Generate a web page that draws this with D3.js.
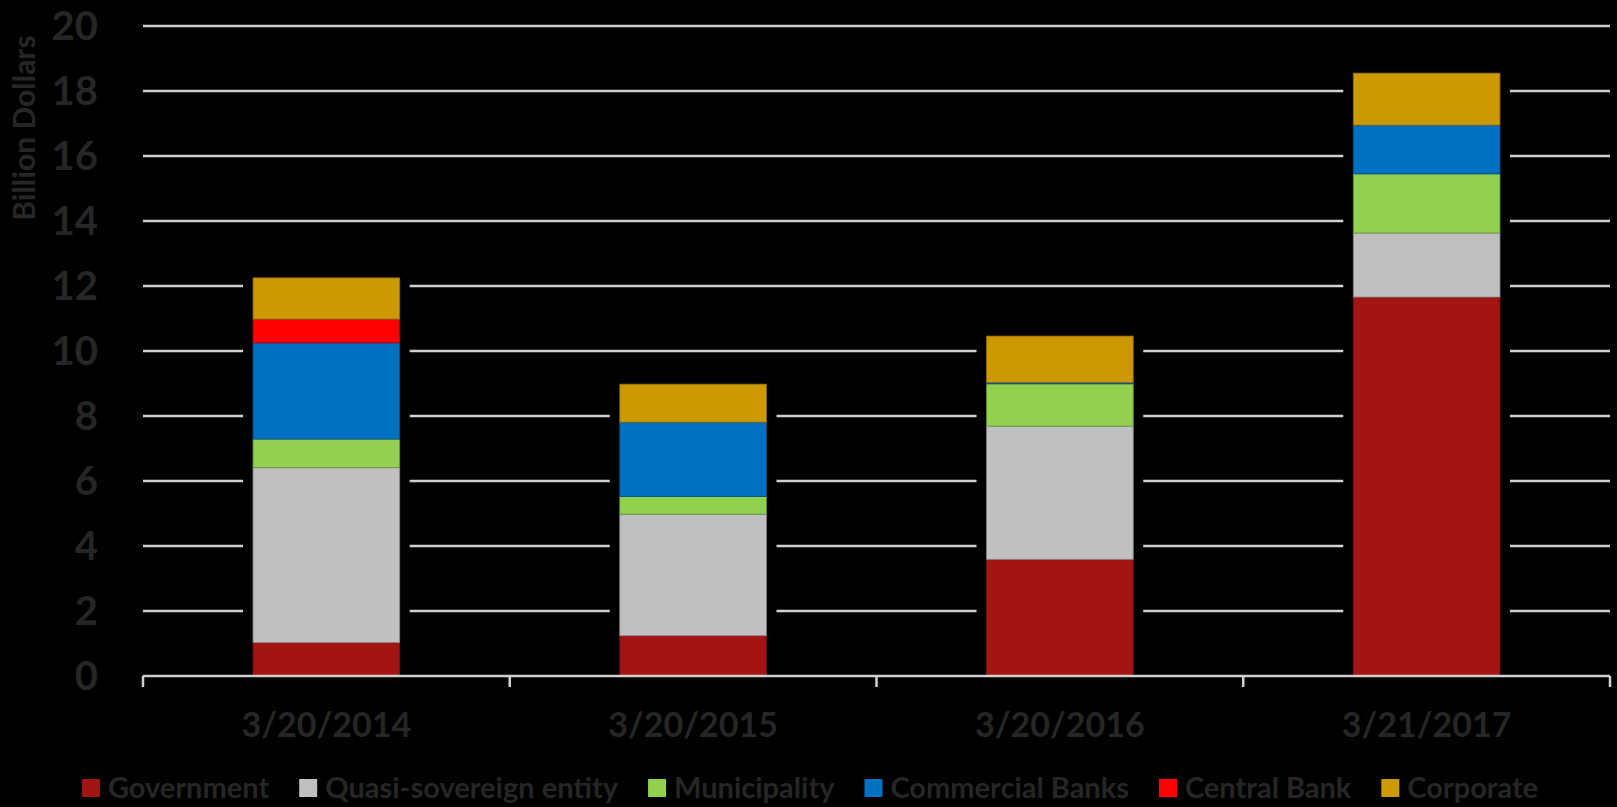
<!DOCTYPE html>
<html>
<head>
<meta charset="utf-8">
<script src="https://cdn.jsdelivr.net/npm/d3@7"></script>
<style>
  html, body { margin: 0; padding: 0; background: #000; }
  svg { display: block; font-family: Lato, "Open Sans", sans-serif; }
</style>
</head>
<body>
<svg id="chart" width="1617" height="807"></svg>
<script>
// categories + series (billion dollars)
const dates = ['3/20/2014', '3/20/2015', '3/20/2016', '3/21/2017'];
const seriesNames = ['Government', 'Quasi-sovereign entity', 'Municipality', 'Commercial Banks', 'Central Bank', 'Corporate'];
const government = [1.03, 1.24, 3.59, 11.66];
const quasiSovereign = [5.38, 3.74, 4.10, 1.97];
const municipality = [0.88, 0.54, 1.30, 1.82];
const commercialBanks = [2.96, 2.29, 0.04, 1.50];
const centralBank = [0.73, 0, 0, 0];
const corporate = [1.27, 1.17, 1.43, 1.60];
const yTicks = [0, 2, 4, 6, 8, 10, 12, 14, 16, 18, 20];
const colors = ['#a31515', '#c0c0c0', '#92d050', '#0070c0', '#ff0000', '#cc9900'];

const textColor = '#262626';
const svg = d3.select('#chart');
const margin = { top: 26, right: 7, bottom: 131, left: 143 };
const W = 1617, H = 807;
const innerW = W - margin.left - margin.right;
const innerH = H - margin.top - margin.bottom;

const table = dates.map((d, i) => ({
  date: d,
  Government: government[i],
  'Quasi-sovereign entity': quasiSovereign[i],
  Municipality: municipality[i],
  'Commercial Banks': commercialBanks[i],
  'Central Bank': centralBank[i],
  Corporate: corporate[i],
}));
const stacked = d3.stack().keys(seriesNames)(table);

const x = d3.scaleBand().domain(dates).range([0, innerW]).paddingInner(0.6).paddingOuter(0.3);
const xBound = d3.scaleLinear().domain([0, dates.length]).range([0, innerW]);
const y = d3.scaleLinear().domain([0, 20]).range([innerH, 0]);
const color = d3.scaleOrdinal().domain(seriesNames).range(colors);

const g = svg.append('g').attr('transform', `translate(${margin.left},${margin.top})`);

// gridlines
g.append('g')
  .selectAll('line')
  .data(yTicks.filter(t => t > 0))
  .join('line')
  .attr('x1', 0).attr('x2', innerW)
  .attr('y1', d => y(d)).attr('y2', d => y(d))
  .attr('stroke', '#d0d0d0').attr('stroke-width', 2.5);

// black gap around each bar
const topOf = i => d3.max(stacked, s => s[i][1]);
g.append('g')
  .selectAll('rect')
  .data(dates)
  .join('rect')
  .attr('x', d => x(d) - 10)
  .attr('width', x.bandwidth() + 20)
  .attr('y', (d, i) => y(topOf(i)) - 4)
  .attr('height', (d, i) => innerH - y(topOf(i)) + 4)
  .attr('fill', '#000');

// stacked bars
g.append('g')
  .selectAll('g')
  .data(stacked)
  .join('g')
  .attr('fill', d => color(d.key))
  .attr('stroke', d => d3.color(color(d.key)).darker(1))
  .attr('stroke-width', 0.8)
  .selectAll('rect')
  .data(d => d.filter(v => v[1] - v[0] > 0))
  .join('rect')
  .attr('x', d => x(d.data.date))
  .attr('width', x.bandwidth())
  .attr('y', d => y(d[1]))
  .attr('height', d => y(d[0]) - y(d[1]));

// x axis line + boundary ticks
g.append('line')
  .attr('x1', 0).attr('x2', innerW)
  .attr('y1', innerH).attr('y2', innerH)
  .attr('stroke', '#d0d0d0').attr('stroke-width', 2.5);
g.append('g')
  .selectAll('line')
  .data(d3.range(dates.length + 1))
  .join('line')
  .attr('x1', d => xBound(d)).attr('x2', d => xBound(d))
  .attr('y1', innerH).attr('y2', innerH + 11)
  .attr('stroke', '#d0d0d0').attr('stroke-width', 2.5);

// x labels
g.append('g')
  .selectAll('text')
  .data(dates)
  .join('text')
  .attr('x', d => x(d) + x.bandwidth() / 2)
  .attr('y', innerH + 61)
  .attr('text-anchor', 'middle')
  .attr('fill', textColor)
  .style('font-size', '34px')
  .style('font-weight', 700)
  .text(d => d);

// y labels
g.append('g')
  .selectAll('text')
  .data(yTicks)
  .join('text')
  .attr('x', -45)
  .attr('y', d => y(d))
  .attr('dy', '0.36em')
  .attr('text-anchor', 'end')
  .attr('fill', textColor)
  .style('font-size', '40px')
  .style('font-weight', 700)
  .text(d => d);

// y title
svg.append('text')
  .attr('transform', 'translate(35,128) rotate(-90)')
  .attr('text-anchor', 'middle')
  .attr('fill', textColor)
  .style('font-size', '30px')
  .style('font-weight', 700)
  .text('Billion Dollars');

// legend, centred under chart
const legend = svg.append('g').attr('class', 'legend');
const items = legend.selectAll('g')
  .data(seriesNames)
  .join('g');
items.append('rect')
  .attr('width', 18).attr('height', 18)
  .attr('y', -19)
  .attr('fill', d => color(d));
items.append('text')
  .attr('x', 26)
  .attr('fill', textColor)
  .style('font-size', '29px')
  .style('font-weight', 700)
  .text(d => d);
let offset = 0;
items.each(function () {
  const w = 26 + d3.select(this).select('text').node().getComputedTextLength();
  d3.select(this).attr('transform', `translate(${offset},0)`);
  offset += w + 30;
});
const legendW = offset - 30;
legend.attr('transform', `translate(${810 - legendW / 2},798)`);
</script>
</body>
</html>
